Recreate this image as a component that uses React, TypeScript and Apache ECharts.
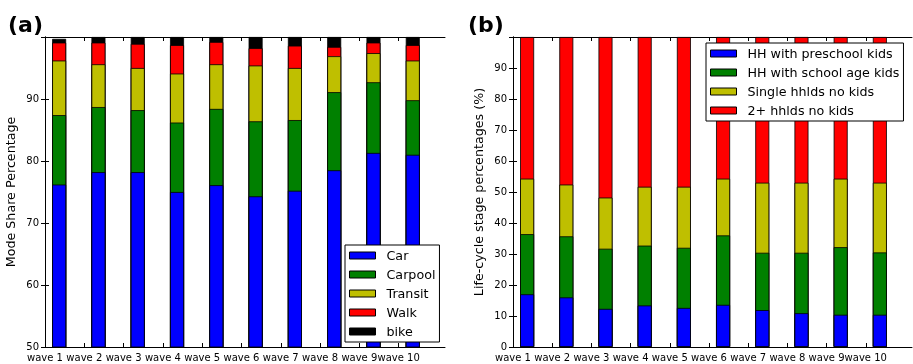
import React, { useEffect, useRef } from "react";
import * as echarts from "echarts";

const categories = ["wave 1", "wave 2", "wave 3", "wave 4", "wave 5", "wave 6", "wave 7", "wave 8", "wave 9", "wave 10"];

// Panel (a): mode share (segment sizes, %)
const car = [76.2, 78.2, 78.2, 75.0, 76.1, 74.3, 75.2, 78.5, 81.3, 81.0];
const carpool = [11.2, 10.5, 10.0, 11.2, 12.3, 12.1, 11.4, 12.6, 11.4, 8.8];
const transit = [8.8, 6.9, 6.8, 7.9, 7.2, 9.0, 8.4, 5.8, 4.7, 6.4];
const walk = [2.9, 3.5, 3.9, 4.6, 3.6, 2.8, 3.6, 1.5, 1.7, 2.5];
const bike = [0.6, 0.9, 1.1, 1.3, 0.8, 1.8, 1.4, 1.6, 0.9, 1.3];

// Panel (b): life-cycle stage (segment sizes, %)
const preschool = [17.0, 16.0, 12.3, 13.4, 12.6, 13.6, 11.9, 10.9, 10.4, 10.4];
const schoolAge = [19.4, 19.7, 19.4, 19.3, 19.4, 22.4, 18.5, 19.5, 21.8, 20.1];
const singleNoKids = [17.9, 16.7, 16.5, 19.0, 19.7, 18.3, 22.6, 22.6, 22.1, 22.5];
const twoPlusNoKids = [45.7, 47.6, 51.8, 48.3, 48.3, 45.7, 47.0, 47.0, 45.7, 47.0];

const yTicksA = [50, 60, 70, 80, 90, 100];
const yTicksB = [0, 10, 20, 30, 40, 50, 60, 70, 80, 90, 100];

const FONT = "DejaVu Sans";
const XMAX = 10.18;
const BAR_OFFSET = 0.36;
const tickPos = categories.map((_, i) => i);

function xAxes(gridIndex: number) {
  const common = {
    gridIndex,
    type: "value" as const,
    min: 0,
    max: XMAX,
    splitLine: { show: false },
    axisLine: { show: true, onZero: false, lineStyle: { color: "#000", width: 1 } },
    axisTick: { show: true, inside: true, length: 4, customValues: tickPos, lineStyle: { color: "#000", width: 1 } },
  };
  return [
    {
      ...common,
      position: "bottom",
      axisLabel: {
        show: true,
        customValues: tickPos,
        formatter: (v: number) => categories[Math.round(v)] ?? "",
        fontSize: 10,
        color: "#000",
        margin: 5,
        fontFamily: FONT,
        hideOverlap: false,
      },
    },
    { ...common, position: "top", axisLabel: { show: false } },
  ];
}

function yAxes(gridIndex: number, ticks: number[], name: string) {
  const common = {
    gridIndex,
    type: "value" as const,
    min: ticks[0],
    max: ticks[ticks.length - 1],
    interval: 10,
    splitLine: { show: false },
    axisLine: { show: true, lineStyle: { color: "#000", width: 1 } },
    axisTick: { show: true, inside: true, length: 4, lineStyle: { color: "#000", width: 1 } },
  };
  return [
    {
      ...common,
      position: "left",
      name,
      nameLocation: "middle",
      nameGap: 28,
      nameTextStyle: { fontSize: 12.7, color: "#000", fontFamily: FONT },
      axisLabel: {
        show: true,
        formatter: (v: number) => (v === 100 ? "" : String(v)),
        fontSize: 10,
        color: "#000",
        margin: 6,
        fontFamily: FONT,
        verticalAlign: "bottom",
        padding: [0, 0, -4, 0],
      },
    },
    { ...common, position: "right", axisLabel: { show: false } },
  ];
}

// Build stacked bars: each segment is drawn from the running cumulative sum,
// with lower segments drawn on top of the taller cumulative bars behind them.
function stackedSeries(groups: { name: string; values: number[]; color: string }[], axisIdx: number) {
  const cum = groups[0].values.map(() => 0);
  return groups.map((g, k) => {
    const tops = g.values.map((v, i) => (cum[i] += v));
    return {
      name: g.name,
      type: "bar",
      xAxisIndex: axisIdx,
      yAxisIndex: axisIdx,
      barWidth: 14,
      barGap: "-100%",
      z: 2 + (groups.length - k),
      data: tops.map((t, i) => [i + BAR_OFFSET, t]),
      itemStyle: { color: g.color, borderColor: "#000", borderWidth: 0.8 },
      emphasis: { disabled: true },
    };
  });
}

function legendCfg(names: string[], left: number, top: number) {
  return {
    data: names,
    orient: "vertical",
    left,
    top,
    icon: "rect",
    padding: [4, 4, 4, 4],
    itemWidth: 26,
    itemHeight: 7,
    itemGap: 6,
    borderColor: "#000",
    borderWidth: 1,
    backgroundColor: "#fff",
    selectedMode: false,
    itemStyle: { borderColor: "#000", borderWidth: 1 },
    textStyle: { fontSize: 12.7, color: "#000", fontFamily: FONT, padding: [0, 0, 0, 6] },
    z: 20,
  };
}

export default function App() {
  const ref = useRef<HTMLDivElement>(null);
  useEffect(() => {
    if (!ref.current) return;
    const chart = echarts.init(ref.current, null, { renderer: "svg" });
    const xa = [...xAxes(0), ...xAxes(1)];
    const ya = [
      ...yAxes(0, yTicksA, "Mode Share Percentage"),
      ...yAxes(1, yTicksB, "Life-cycle stage percentages (%)"),
    ];
    const option = {
      animation: false,
      textStyle: { fontFamily: FONT },
      grid: [
        { left: 45, top: 37, width: 400, height: 310 },
        { left: 513, top: 37, width: 399, height: 310 },
      ],
      xAxis: xa,
      yAxis: ya,
      legend: [
        legendCfg(["Car", "Carpool", "Transit", "Walk", "bike"], 345, 245),
        legendCfg(["HH with preschool kids", "HH with school age kids", "Single hhlds no kids", "2+ hhlds no kids"], 706, 43),
      ],
      graphic: [
        { type: "text", x: 8, y: 24, style: { text: "(a)", font: `bold 22px '${FONT}'`, fill: "#000", verticalAlign: "middle" } },
        { type: "text", x: 468, y: 24, style: { text: "(b)", font: `bold 22px '${FONT}'`, fill: "#000", verticalAlign: "middle" } },
      ],
      series: [
        ...stackedSeries(
          [
            { name: "Car", values: car, color: "#0000ff" },
            { name: "Carpool", values: carpool, color: "#008000" },
            { name: "Transit", values: transit, color: "#bfbf00" },
            { name: "Walk", values: walk, color: "#ff0000" },
            { name: "bike", values: bike, color: "#000000" },
          ],
          0
        ),
        ...stackedSeries(
          [
            { name: "HH with preschool kids", values: preschool, color: "#0000ff" },
            { name: "HH with school age kids", values: schoolAge, color: "#008000" },
            { name: "Single hhlds no kids", values: singleNoKids, color: "#bfbf00" },
            { name: "2+ hhlds no kids", values: twoPlusNoKids, color: "#ff0000" },
          ],
          2
        ),
      ],
    };
    chart.setOption(option as any);
    return () => chart.dispose();
  }, []);
  return <div ref={ref} style={{ position: "fixed", left: 0, top: 0, width: 913, height: 364 }} />;
}
